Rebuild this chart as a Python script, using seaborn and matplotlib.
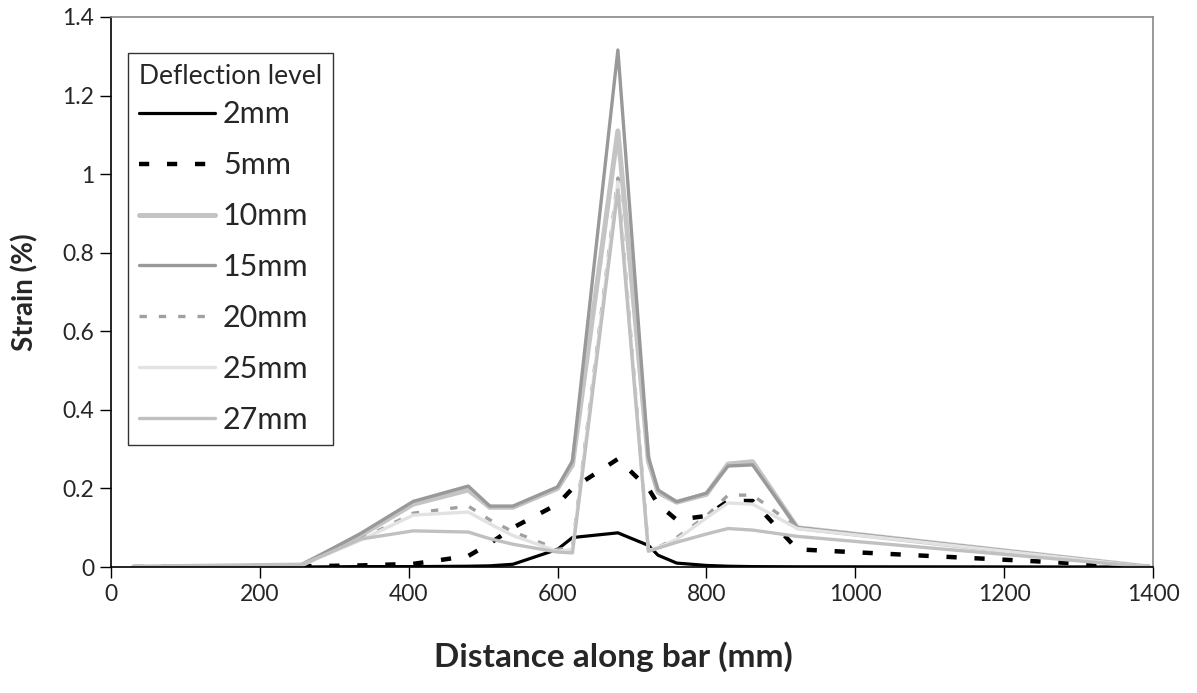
import pandas as pd
import matplotlib
matplotlib.use("Agg")
import matplotlib.pyplot as plt
import seaborn as sns

# distance along bar (mm), shared by every deflection level
distance = [30, 256, 335, 406, 480, 509, 540, 600, 620, 681, 722, 735, 760, 800, 829, 862, 922, 1395]

strain_2mm = [0, 0, 0.001, 0.001, 0.002, 0.003, 0.007, 0.045, 0.075, 0.087, 0.055, 0.03, 0.01, 0.004, 0.002, 0.001, 0.0005, 0]
strain_5mm = [0, 0.002, 0.004, 0.008, 0.028, 0.06, 0.1, 0.16, 0.2, 0.275, 0.2, 0.16, 0.12, 0.13, 0.168, 0.168, 0.045, 0]
strain_10mm = [0, 0.005, 0.08, 0.16, 0.196, 0.152, 0.152, 0.2, 0.26, 1.11, 0.27, 0.19, 0.165, 0.185, 0.262, 0.268, 0.1, 0]
strain_15mm = [0, 0.005, 0.085, 0.167, 0.206, 0.155, 0.155, 0.204, 0.27, 1.316, 0.28, 0.196, 0.166, 0.188, 0.257, 0.26, 0.1, 0]
strain_20mm = [0, 0.005, 0.07, 0.137, 0.155, 0.12, 0.09, 0.045, 0.05, 0.99, 0.045, 0.05, 0.075, 0.13, 0.183, 0.183, 0.1, 0]
strain_25mm = [0, 0.005, 0.068, 0.132, 0.14, 0.11, 0.08, 0.04, 0.045, 0.98, 0.042, 0.05, 0.07, 0.125, 0.163, 0.16, 0.098, 0]
strain_27mm = [0, 0.005, 0.071, 0.092, 0.089, 0.072, 0.058, 0.038, 0.036, 0.96, 0.04, 0.048, 0.063, 0.084, 0.098, 0.094, 0.078, 0]

levels = ["2mm", "5mm", "10mm", "15mm", "20mm", "25mm", "27mm"]
series = [strain_2mm, strain_5mm, strain_10mm, strain_15mm, strain_20mm, strain_25mm, strain_27mm]

# (colour, linewidth, dash pattern or None)
styles = {
    "2mm": ("black", 2.3, None),
    "5mm": ("black", 3.2, (2.3, 4.0)),
    "10mm": ("#c4c4c4", 3.6, None),
    "15mm": ("#999999", 2.4, None),
    "20mm": ("#a0a0a0", 2.4, (2.2, 3.6)),
    "25mm": ("#e2e2e2", 2.4, None),
    "27mm": ("#c0c0c0", 2.4, None),
}

df = pd.concat(
    [pd.DataFrame({"distance": distance, "strain": s, "level": lv}) for lv, s in zip(levels, series)],
    ignore_index=True,
)

sns.set_style("ticks")
plt.rcParams["font.family"] = ["Lato", "DejaVu Sans"]

fig = plt.figure(figsize=(11.97, 6.93), dpi=100)
ax = fig.add_axes([0.0927, 0.1818, 0.8706, 0.7937])

for lv in levels:
    color, lw, dash = styles[lv]
    sub = df[df["level"] == lv]
    sns.lineplot(data=sub, x="distance", y="strain", ax=ax, color=color,
                 linewidth=lw, label=lv, estimator=None, sort=False)
    ln = ax.lines[-1]
    if dash is not None:
        ln.set_dashes(dash)
        ln.set_dash_capstyle("butt")

ax.set_xlim(0, 1400)
ax.set_ylim(0, 1.4)
ax.set_xticks(range(0, 1401, 200))
ax.set_yticks([0, 0.2, 0.4, 0.6, 0.8, 1.0, 1.2, 1.4])
ax.set_yticklabels(["0", "0.2", "0.4", "0.6", "0.8", "1", "1.2", "1.4"])
ax.tick_params(axis="both", labelsize=16.5, length=8, width=1, color="black", direction="out", pad=4)

for side in ["left", "bottom"]:
    ax.spines[side].set_color("black")
    ax.spines[side].set_linewidth(1.2)
for side in ["top", "right"]:
    ax.spines[side].set_visible(True)
    ax.spines[side].set_color("#888888")
    ax.spines[side].set_linewidth(1.2)

ax.set_xlabel("Distance along bar (mm)", fontsize=24, fontweight="bold")
ax.set_ylabel("Strain (%)", fontsize=20, fontweight="bold")
ax.xaxis.set_label_coords(0.482, -0.135)
ax.yaxis.set_label_coords(-0.07, 0.5)

leg = ax.legend(title="Deflection level", loc="upper left", bbox_to_anchor=(0.0163, 0.9345),
                borderaxespad=0, fontsize=22, title_fontsize=19, handlelength=2.5,
                handletextpad=0.25, labelspacing=0.75, borderpad=0.36, frameon=True,
                fancybox=False)
leg.get_frame().set_edgecolor("black")
leg.get_frame().set_linewidth(1.0)
leg._legend_box.align = "left"
leg._legend_box.sep = 8.2  # tighter gap under the title

fig.savefig("out.png", dpi=100)
